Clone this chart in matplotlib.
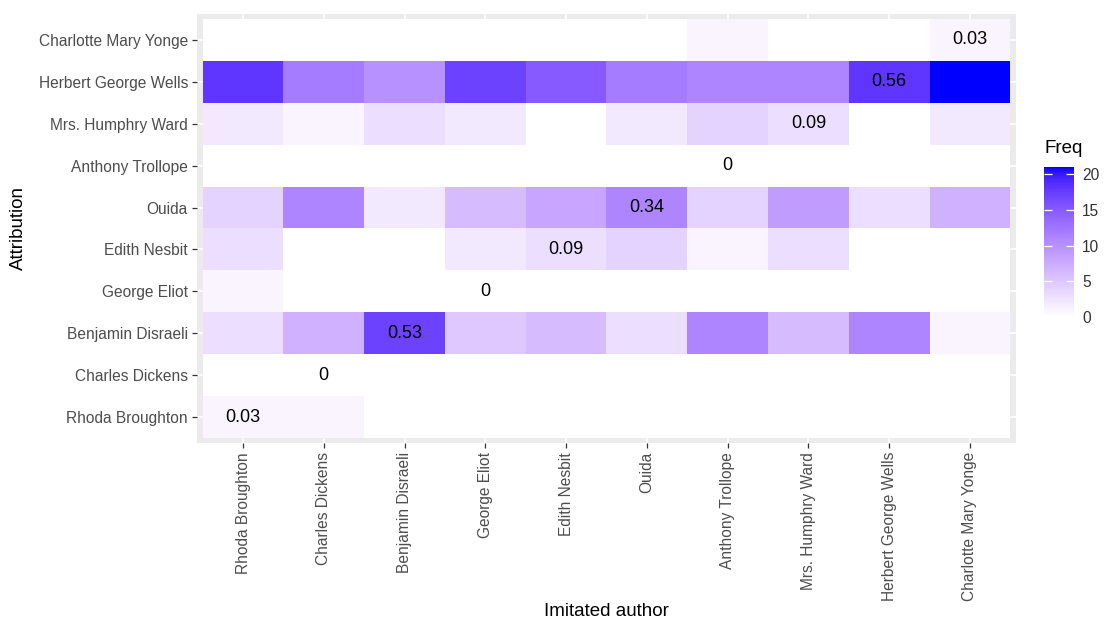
import numpy as np
import matplotlib
matplotlib.use("Agg")
import matplotlib.pyplot as plt
from matplotlib.colors import ListedColormap

# ---------------- data ----------------
authors = ["Rhoda Broughton", "Charles Dickens", "Benjamin Disraeli", "George Eliot",
           "Edith Nesbit", "Ouida", "Anthony Trollope", "Mrs. Humphry Ward",
           "Herbert George Wells", "Charlotte Mary Yonge"]
imitated_authors = authors          # x axis (columns)
attributions = authors              # y axis (rows, bottom -> top)

# Freq for each attribution row, across imitated authors (same order as above)
freq_rhoda_broughton  = [1, 1, 0, 0, 0, 0, 0, 0, 0, 0]
freq_charles_dickens  = [0, 0, 0, 0, 0, 0, 0, 0, 0, 0]
freq_benjamin_disraeli = [3, 7, 17, 5, 6, 3, 11, 6, 11, 1]
freq_george_eliot     = [1, 0, 0, 0, 0, 0, 0, 0, 0, 0]
freq_edith_nesbit     = [3, 0, 0, 2, 3, 4, 1, 3, 0, 0]
freq_ouida            = [4, 11, 2, 6, 8, 11, 4, 9, 3, 7]
freq_anthony_trollope = [0, 0, 0, 0, 0, 0, 0, 0, 0, 0]
freq_mrs_humphry_ward = [2, 1, 3, 2, 0, 2, 4, 3, 0, 2]
freq_hg_wells         = [18, 12, 10, 17, 15, 12, 11, 11, 18, 21]
freq_cm_yonge         = [0, 0, 0, 0, 0, 0, 1, 0, 0, 1]

freq = np.array([freq_rhoda_broughton, freq_charles_dickens, freq_benjamin_disraeli,
                 freq_george_eliot, freq_edith_nesbit, freq_ouida,
                 freq_anthony_trollope, freq_mrs_humphry_ward, freq_hg_wells,
                 freq_cm_yonge], dtype=float)

colorbar_ticks = [0, 5, 10, 15, 20]

# ---------------- Lab-space white -> blue gradient (like ggplot) ----------------
_M = np.array([[0.4124564, 0.3575761, 0.1804375],
               [0.2126729, 0.7151522, 0.0721750],
               [0.0193339, 0.1191920, 0.9503041]])
_WHITE = np.array([0.95047, 1.0, 1.08883])


def srgb_to_lab(rgb):
    rgb = np.asarray(rgb, float)
    lin = np.where(rgb <= 0.04045, rgb / 12.92, ((rgb + 0.055) / 1.055) ** 2.4)
    xyz = _M @ lin / _WHITE
    e = 216 / 24389
    k = 24389 / 27
    f = np.where(xyz > e, np.cbrt(xyz), (k * xyz + 16) / 116)
    return np.array([116 * f[1] - 16, 500 * (f[0] - f[1]), 200 * (f[1] - f[2])])


def lab_to_srgb(lab):
    L, a, b = lab
    fy = (L + 16) / 116
    fx = fy + a / 500
    fz = fy - b / 200
    e = 216 / 24389
    k = 24389 / 27
    xr = fx ** 3 if fx ** 3 > e else (116 * fx - 16) / k
    yr = fy ** 3 if L > k * e else L / k
    zr = fz ** 3 if fz ** 3 > e else (116 * fz - 16) / k
    xyz = np.array([xr, yr, zr]) * _WHITE
    lin = np.linalg.solve(_M, xyz)
    lin = np.clip(lin, 0, 1)
    rgb = np.where(lin <= 0.0031308, 12.92 * lin, 1.055 * lin ** (1 / 2.4) - 0.055)
    return np.clip(rgb, 0, 1)


lab_lo = srgb_to_lab([1, 1, 1])
lab_hi = srgb_to_lab([0, 0, 1])
cmap = ListedColormap([lab_to_srgb(lab_lo + t * (lab_hi - lab_lo))
                       for t in np.linspace(0, 1, 256)])

# ---------------- figure ----------------
plt.rcParams['font.family'] = ['Liberation Sans', 'DejaVu Sans']
W, H = 1104, 622
fig = plt.figure(figsize=(W / 100, H / 100), dpi=100)

pl, pr, pt, pb = 197, 1016, 14, 443
ax = fig.add_axes([pl / W, 1 - pb / H, (pr - pl) / W, (pb - pt) / H])
ax.set_facecolor('#EBEBEB')
for s in ax.spines.values():
    s.set_visible(False)

n = len(authors)
edges = np.arange(n + 1) - 0.5
mesh = ax.pcolormesh(edges, edges, freq, cmap=cmap,
                     vmin=freq.min(), vmax=freq.max(), zorder=2)

ax.set_xlim(-0.57, n - 1 + 0.57)
ax.set_ylim(-0.62, n - 1 + 0.62)
ax.set_xticks(range(n))
ax.set_yticks(range(n))
ax.set_xticklabels(imitated_authors, rotation=90, fontsize=11.2, color='#4D4D4D')
ax.set_yticklabels(attributions, fontsize=11.2, color='#4D4D4D')
ax.tick_params(axis='both', length=3.5, width=0.9, color='#333333', pad=3)
ax.set_axisbelow(True)
ax.grid(True, color='white', linewidth=1.2, zorder=0)

# diagonal proportions
col_tot = freq.sum(axis=0)
for i in range(n):
    p = round(freq[i, i] / col_tot[i], 2)
    lab = f"{p:g}"
    ax.text(i, i, lab, ha='center', va='center', fontsize=13, color='black', zorder=3)

ax.set_xlabel("Imitated author", fontsize=13.5, va='center')
ax.xaxis.set_label_coords(0.5, (pb - 612) / (pb - pt))
ax.set_ylabel("Attribution", fontsize=13.5, va='center')
ax.yaxis.set_label_coords((18 - pl) / (pr - pl), 0.5)

# colorbar
cl, cr, ct, cb = 1044, 1074, 167, 317
cax = fig.add_axes([cl / W, 1 - cb / H, (cr - cl) / W, (cb - ct) / H])
cbar = fig.colorbar(mesh, cax=cax, ticks=colorbar_ticks)
cbar.outline.set_visible(False)
cax.tick_params(axis='y', which='both', left=True, right=True, direction='in',
                color='white', length=6, width=0.9, labelsize=11.2,
                labelcolor='#333333', pad=6)
cax.yaxis.set_ticks_position('both')
cax.tick_params(axis='y', labelleft=False, labelright=True)
fig.text(cl / W, 1 - 149 / H, "Freq", fontsize=13.5, ha='left', va='center')

fig.savefig("out.png", dpi=100)
